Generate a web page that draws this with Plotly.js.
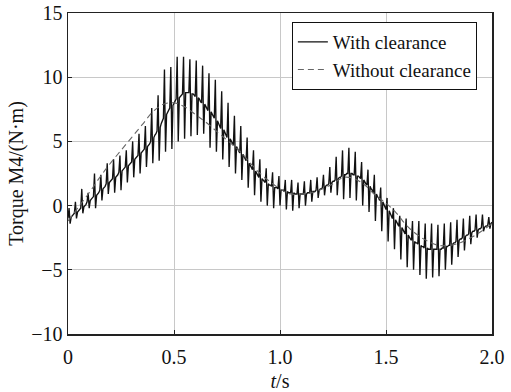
<!DOCTYPE html>
<html>
<head>
<meta charset="utf-8">
<script src="https://cdn.plot.ly/plotly-3.0.1.min.js"></script>
<style>html,body{margin:0;padding:0;background:#fff;}#chart{width:511px;height:392px;}</style>
</head>
<body>
<div id="chart"></div>
<script>
// Sampling step of the "with clearance" record (s)
const stepWith = 0.005;
// Torque with clearance (N·m), one value per 0.005 s from 0 to 2.0 s
const torqueWith = [
 -1.0,-0.2,-1.4,-0.9,-0.8,-0.7,
 -0.6,0.3,-1.0,-0.5,-0.4,-0.3,
 -0.2,1.3,-0.6,-0.1,0.0,0.1,
 0.3,1.0,-0.2,0.4,0.5,0.6,
 0.7,2.5,-0.2,0.8,0.9,1.0,
 1.2,2.4,0.4,1.3,1.4,1.5,
 1.7,3.3,0.9,1.8,1.9,2.0,
 2.1,3.6,1.0,2.2,2.3,2.4,
 2.6,3.9,1.2,2.7,2.8,2.9,
 3.0,4.3,1.8,3.1,3.2,3.3,
 3.4,5.0,2.2,3.6,3.7,3.8,
 3.9,5.6,2.5,4.1,4.2,4.3,
 4.4,6.2,3.0,4.6,4.7,4.8,
 5.0,7.6,3.3,5.3,5.5,5.6,
 5.8,8.6,3.5,6.1,6.4,6.6,
 6.8,10.6,4.2,7.1,7.3,7.4,
 7.6,10.8,4.4,7.8,8.0,8.1,
 8.3,11.6,5.0,8.4,8.5,8.6,
 8.7,11.6,5.2,8.8,8.8,8.8,
 8.8,11.4,5.4,8.7,8.7,8.6,
 8.5,11.3,5.5,8.4,8.3,8.1,
 8.0,10.9,5.6,7.9,7.7,7.6,
 7.4,10.3,4.5,7.3,7.1,7.0,
 6.8,9.8,4.2,6.6,6.4,6.2,
 6.0,8.9,3.6,5.9,5.7,5.5,
 5.3,8.0,3.0,5.2,5.0,4.9,
 4.7,7.0,2.5,4.6,4.4,4.3,
 4.1,6.2,2.0,4.0,3.8,3.7,
 3.5,5.3,1.4,3.3,3.1,3.0,
 2.8,4.3,0.8,2.7,2.5,2.4,
 2.2,3.6,0.3,2.1,2.0,1.9,
 1.8,2.9,0.0,1.7,1.6,1.6,
 1.5,2.6,-0.2,1.4,1.4,1.4,
 1.3,2.3,0.0,1.2,1.2,1.2,
 1.1,2.0,-0.3,1.1,1.0,1.0,
 1.0,2.0,-0.4,1.0,0.9,0.9,
 0.9,1.8,-0.2,0.9,0.9,0.9,
 0.9,1.9,0.0,0.9,1.0,1.0,
 1.0,2.0,0.3,1.1,1.1,1.1,
 1.2,2.2,0.6,1.2,1.3,1.3,
 1.4,2.4,0.8,1.5,1.6,1.6,
 1.7,3.0,1.0,1.8,1.9,1.9,
 2.0,3.8,0.8,2.1,2.2,2.2,
 2.3,4.3,0.5,2.4,2.4,2.5,
 2.5,4.5,0.6,2.5,2.5,2.4,
 2.4,4.2,0.4,2.3,2.3,2.2,
 2.1,3.4,0.0,2.0,1.8,1.7,
 1.6,2.8,-0.5,1.5,1.3,1.2,
 1.0,2.4,-1.2,0.9,0.7,0.6,
 0.4,1.4,-2.0,0.3,0.1,-0.1,
 -0.3,0.6,-2.8,-0.4,-0.6,-0.8,
 -1.0,-0.2,-3.4,-1.1,-1.3,-1.4,
 -1.6,-0.8,-4.2,-1.7,-1.9,-2.0,
 -2.2,-1.0,-4.8,-2.3,-2.5,-2.6,
 -2.7,-1.2,-5.0,-2.8,-2.9,-2.9,
 -3.0,-1.2,-5.4,-3.1,-3.2,-3.2,
 -3.3,-1.4,-5.7,-3.3,-3.4,-3.4,
 -3.4,-1.4,-5.6,-3.4,-3.4,-3.4,
 -3.4,-1.5,-5.5,-3.4,-3.4,-3.3,
 -3.3,-1.4,-5.0,-3.2,-3.2,-3.1,
 -3.1,-1.3,-4.6,-3.0,-2.9,-2.9,
 -2.8,-1.1,-4.0,-2.7,-2.6,-2.6,
 -2.5,-1.0,-3.5,-2.4,-2.3,-2.3,
 -2.2,-0.8,-3.0,-2.1,-2.0,-2.0,
 -1.9,-0.7,-2.5,-1.9,-1.8,-1.8,
 -1.7,-0.7,-2.0,-1.7,-1.6,-1.6,
 -1.5,-0.9,-1.8,-1.4,-1.3
];
const timeWith = torqueWith.map((_, i) => +(i * stepWith).toFixed(3));

// Torque without clearance (smooth)
const timeWithout = [0,0.05,0.1,0.15,0.2,0.25,0.3,0.35,0.4,0.45,0.5,0.55,0.6,0.65,0.7,0.75,0.8,0.85,0.9,0.95,1.0,1.05,1.1,1.15,1.2,1.25,1.3,1.35,1.4,1.45,1.5,1.55,1.6,1.65,1.7,1.75,1.8,1.85,1.9,1.95,2.0];
const torqueWithout = [-1.2,-0.1,1.0,2.2,3.3,4.3,5.3,6.3,7.3,7.9,8.0,7.7,7.1,6.5,5.8,5.1,4.4,3.5,2.6,1.9,1.3,0.9,0.9,1.0,1.3,1.7,2.2,2.1,1.6,0.8,0.2,-0.6,-1.6,-2.3,-2.8,-3.1,-3.1,-2.9,-2.5,-2.0,-1.4];

const xTicks = [0, 0.5, 1.0, 1.5, 2.0];
const xTickText = ['0', '0.5', '1.0', '1.5', '2.0'];
const yTicks = [-10, -5, 0, 5, 10, 15];

const fam = '"Liberation Serif", "Times New Roman", serif';
const ink = '#111';

const traces = [
  {x: timeWith, y: torqueWith, type: 'scatter', mode: 'lines', name: 'With clearance',
   line: {color: ink, width: 1.35}},
  {x: timeWithout, y: torqueWithout, type: 'scatter', mode: 'lines', name: 'Without clearance',
   line: {color: '#666', width: 1.1, dash: '6px,4px', shape: 'spline'}}
];

const layout = {
  width: 511, height: 392,
  margin: {l: 68, r: 19, t: 13, b: 58},
  paper_bgcolor: '#fff', plot_bgcolor: '#fff',
  font: {family: fam, color: ink, size: 19},
  showlegend: true,
  legend: {x: 0.528, y: 0.972, xanchor: 'left', yanchor: 'top',
    bgcolor: '#fff', bordercolor: ink, borderwidth: 1,
    font: {family: fam, size: 19, color: ink},
    tracegroupgap: 0, itemwidth: 30},
  xaxis: {range: [0, 2], tickvals: xTicks, ticktext: xTickText,
    showgrid: true, gridcolor: '#c8c8c8', gridwidth: 1,
    zeroline: false, showline: true, linecolor: '#222', linewidth: 1.5, mirror: true,
    ticks: 'inside', ticklen: 4, tickcolor: '#222', ticklabelstandoff: 4,
    tickfont: {family: fam, size: 20, color: ink},
    title: {text: '<i>t</i>/s', font: {family: fam, size: 20, color: ink}, standoff: 8}},
  yaxis: {range: [-10, 15], tickvals: yTicks,
    showgrid: true, gridcolor: '#c8c8c8', gridwidth: 1,
    zeroline: false, showline: true, linecolor: '#222', linewidth: 1.5, mirror: true,
    ticks: 'inside', ticklen: 4, tickcolor: '#222',
    tickfont: {family: fam, size: 20, color: ink},
    title: {text: 'Torque M4/(N·m)', font: {family: fam, size: 20, color: ink}, standoff: 2}}
};

Plotly.newPlot('chart', traces, layout, {displayModeBar: false, staticPlot: true});
</script>
</body>
</html>
